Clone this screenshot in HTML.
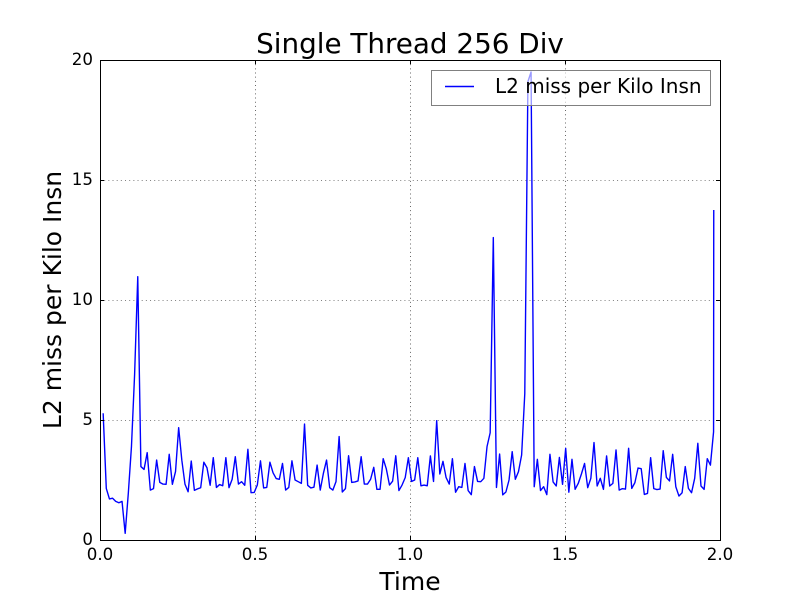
<!DOCTYPE html>
<html>
<head>
<meta charset="utf-8">
<title>Single Thread 256 Div</title>
<style>
html,body{margin:0;padding:0;background:#fff;}
svg{display:block;font-family:"DejaVu Sans","Liberation Sans",sans-serif;}
</style>
</head>
<body>
<svg id="chart" width="800" height="600" viewBox="0 0 800 600" xmlns="http://www.w3.org/2000/svg">
  <rect x="0" y="0" width="800" height="600" fill="#ffffff"/>
  <defs><clipPath id="plot-clip"><rect x="100" y="60" width="620" height="480"/></clipPath></defs>
  <g id="grid"></g>
  <polyline id="series" fill="none" stroke="#0000ff" stroke-width="1.39" stroke-linejoin="round" clip-path="url(#plot-clip)"/>
  <g id="ticks"></g>
  <rect x="100.5" y="60.5" width="620" height="480" fill="none" stroke="#000000" stroke-width="1"/>
  <g id="tick-labels" font-size="16.67" fill="#000000"></g>
  <text x="410" y="53" font-size="27.8" text-anchor="middle" fill="#000000">Single Thread 256 Div</text>
  <text x="410" y="590" font-size="25" text-anchor="middle" fill="#000000">Time</text>
  <text transform="translate(61,300) rotate(-90)" x="0" y="0" font-size="25" text-anchor="middle" fill="#000000">L2 miss per Kilo Insn</text>
  <g>
    <rect x="431.5" y="70.5" width="279" height="35" fill="#ffffff" fill-opacity="0.6" stroke="#808080" stroke-width="1"/>
    <line x1="445" y1="86.5" x2="474" y2="86.5" stroke="#0000ff" stroke-width="1.39"/>
    <text x="495" y="93" font-size="20" fill="#000000">L2 miss per Kilo Insn</text>
  </g>
</svg>
<script>
const sampleInterval = 0.01015;
const finalSampleGap = 0.0006;
const missPerKiloInsn = [
  5.28,2.15,1.71,1.74,1.61,1.55,1.61,0.28,1.95,3.9,6.9,10.97,3.06,2.94,3.64,2.08,2.14,3.33,2.40,2.33,
  2.32,3.57,2.32,2.85,4.68,3.33,2.33,2.01,3.29,2.07,2.13,2.18,3.24,3.01,2.28,3.43,2.19,2.31,2.26,3.43,
  2.18,2.53,3.47,2.33,2.43,2.28,3.78,1.97,1.98,
  2.29,3.30,2.17,2.19,3.24,2.80,2.56,2.53,3.19,2.08,2.19,3.30,2.50,2.43,2.36,4.83,2.28,2.17,2.20,3.12,
  2.08,2.78,3.33,2.18,2.08,2.43,4.31,2.00,2.14,3.51,2.40,2.42,2.46,3.47,2.33,2.33,2.53,3.03,2.11,2.11,
  3.39,2.96,2.29,2.45,3.51,2.06,2.29,2.60,3.43,
  2.44,2.50,3.43,2.26,2.29,2.26,3.50,2.44,4.97,2.75,3.28,2.60,2.33,3.39,1.99,2.22,2.19,3.19,2.06,1.89,
  3.06,2.44,2.43,2.57,3.89,4.47,12.6,2.19,3.58,1.88,2.00,2.50,3.68,2.53,2.85,3.54,6.10,19.1,19.5,2.22,
  3.36,2.06,2.22,1.89,3.57,2.42,2.25,3.44,2.32,3.82,1.99,3.36,2.11,2.36,
  2.75,3.19,2.18,2.57,4.06,2.25,2.57,2.11,3.50,2.25,2.36,3.75,2.08,2.14,2.12,3.82,2.15,2.39,3.00,2.97,
  1.90,1.94,3.43,2.14,2.10,2.12,3.72,2.61,2.46,3.57,2.22,1.83,1.97,3.06,2.15,1.97,2.57,4.03,2.25,2.11,
  3.39,3.12,4.51,13.75
];
const xTicks = [0, 0.5, 1, 1.5, 2];
const xTickLabels = ["0.0", "0.5", "1.0", "1.5", "2.0"];
const yTicks = [0, 5, 10, 15, 20];
const yTickLabels = ["0", "5", "10", "15", "20"];
const xDomain = [0, 2];
const yDomain = [0, 20];

const plot = { left: 100, right: 720, top: 60, bottom: 540 };
const NS = 'http://www.w3.org/2000/svg';
function xScale(v) { return plot.left + (v - xDomain[0]) / (xDomain[1] - xDomain[0]) * (plot.right - plot.left); }
function yScale(v) { return plot.bottom - (v - yDomain[0]) / (yDomain[1] - yDomain[0]) * (plot.bottom - plot.top); }
function snap(v) { return Math.round(v) + 0.5; }
function makeLine(x1, y1, x2, y2, stroke, dash) {
  const l = document.createElementNS(NS, 'line');
  l.setAttribute('x1', x1);
  l.setAttribute('y1', y1);
  l.setAttribute('x2', x2);
  l.setAttribute('y2', y2);
  l.setAttribute('stroke', stroke);
  l.setAttribute('stroke-width', dash ? '0.6' : '1');
  if (dash) l.setAttribute('stroke-dasharray', dash);
  return l;
}
const gridGroup = document.getElementById('grid');
const tickGroup = document.getElementById('ticks');
const labelGroup = document.getElementById('tick-labels');

xTicks.forEach(function (t, i) {
  const x = snap(xScale(t));
  const g = makeLine(x, plot.top, x, plot.bottom, '#000000', '1 3.17');
  
  
  gridGroup.appendChild(g);
  const t1 = makeLine(x, plot.bottom, x, plot.bottom - 4, '#000000');
  
  
  tickGroup.appendChild(t1);
  const t2 = makeLine(x, plot.top, x, plot.top + 4, '#000000');
  
  
  tickGroup.appendChild(t2);
  const lab = document.createElementNS(NS, 'text');
  
  
  lab.setAttribute('x', xScale(t));
  lab.setAttribute('y', 560);
  lab.setAttribute('text-anchor', 'middle');
  lab.textContent = xTickLabels[i];
  labelGroup.appendChild(lab);
});

yTicks.forEach(function (t, i) {
  const y = snap(yScale(t));
  const g = makeLine(plot.left, y, plot.right, y, '#000000', '1 3.17');
  
  
  gridGroup.appendChild(g);
  const t1 = makeLine(plot.left, y, plot.left + 4, y, '#000000');
  
  
  tickGroup.appendChild(t1);
  const t2 = makeLine(plot.right, y, plot.right - 4, y, '#000000');
  
  
  tickGroup.appendChild(t2);
  const lab = document.createElementNS(NS, 'text');
  
  
  lab.setAttribute('x', 93);
  lab.setAttribute('y', yScale(t) + 5);
  lab.setAttribute('text-anchor', 'end');
  lab.textContent = yTickLabels[i];
  labelGroup.appendChild(lab);
});

const lastIndex = missPerKiloInsn.length - 1;
const pts = missPerKiloInsn.map(function (v, i) {
  const t = i === lastIndex ? lastIndex * sampleInterval + finalSampleGap : (i + 1) * sampleInterval;
  return xScale(t).toFixed(2) + ',' + yScale(v).toFixed(2);
});
document.getElementById('series').setAttribute('points', pts.join(' '));
</script>
</body>
</html>
